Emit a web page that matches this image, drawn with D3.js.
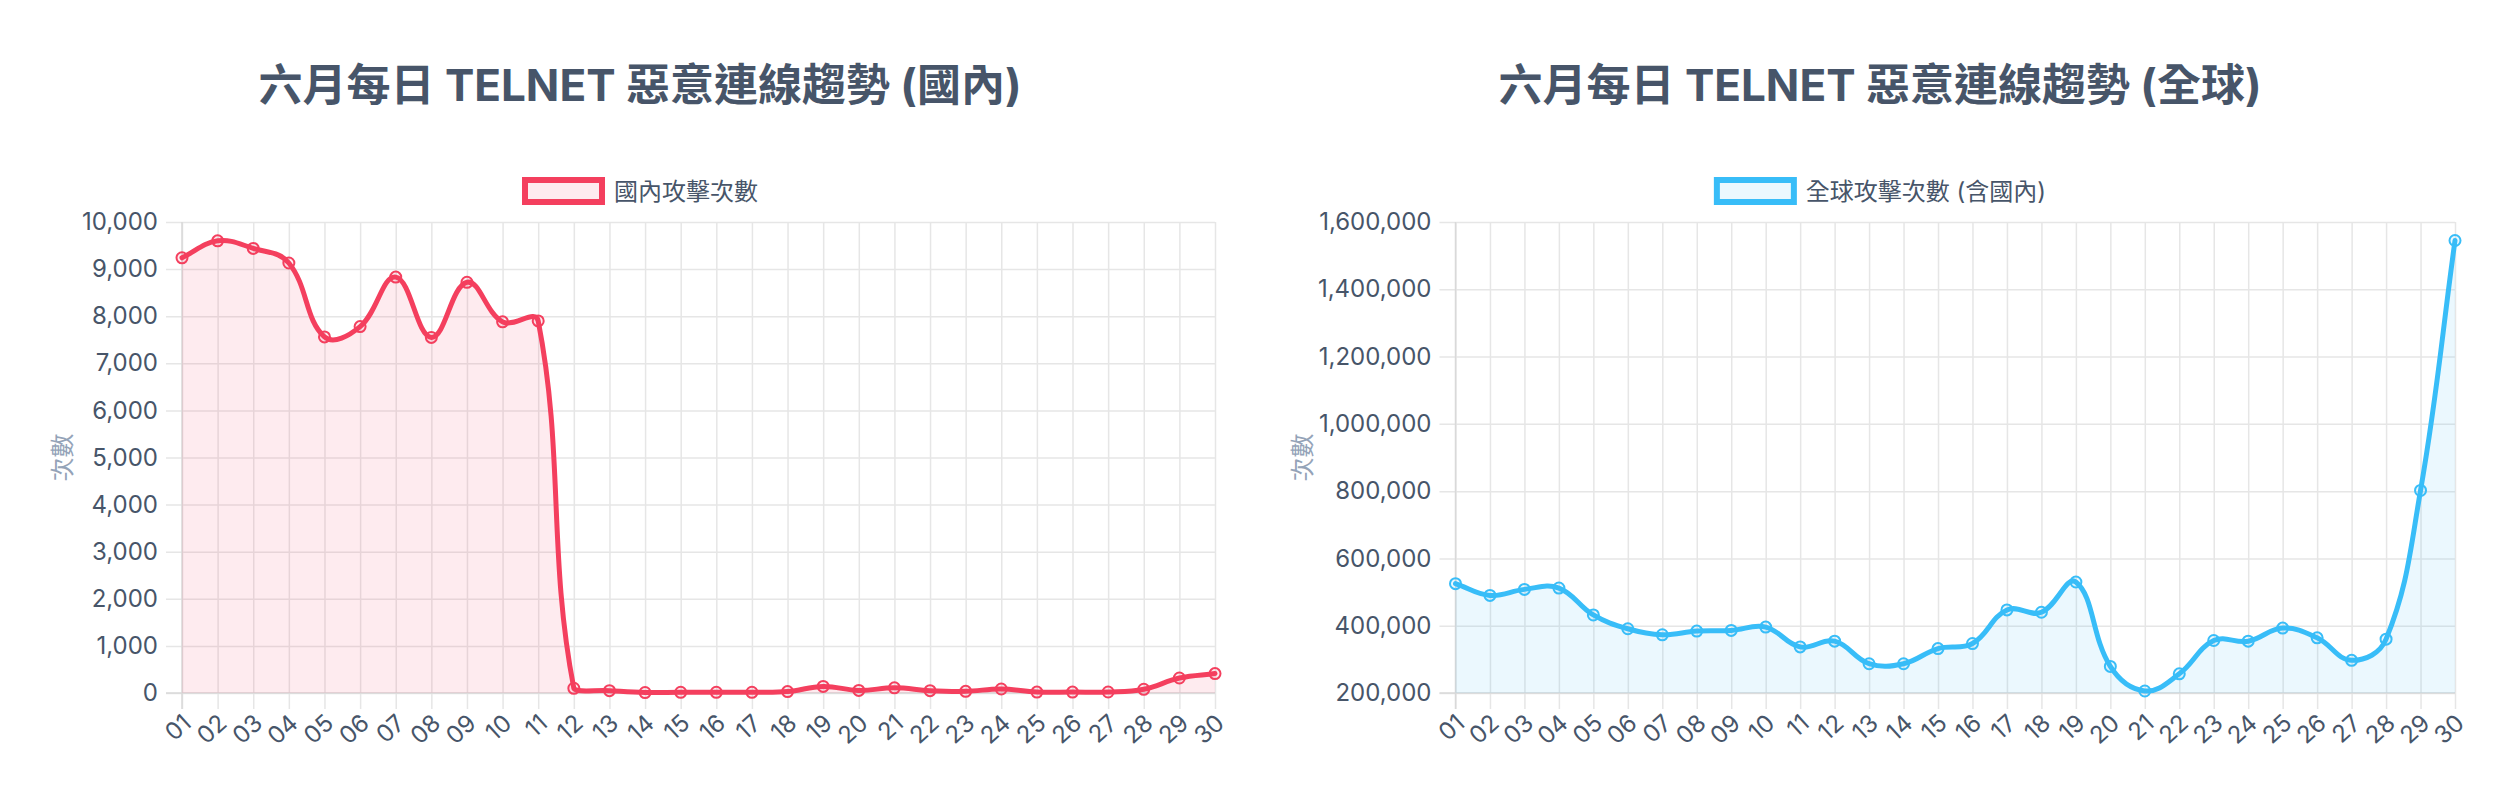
<!DOCTYPE html>
<html><head><meta charset="utf-8">
<script src="https://cdn.jsdelivr.net/npm/d3@7"></script>
<style>
body{margin:0;background:#fff;}
svg{display:block;font-family:Inter,"Noto Sans CJK TC",sans-serif;}
</style>
</head><body>
<svg id="c" width="2520" height="800"></svg>
<script>
const days = ["01","02","03","04","05","06","07","08","09","10","11","12","13","14","15","16","17","18","19","20","21","22","23","24","25","26","27","28","29","30"];
const domesticValues = [9240,9600,9440,9130,7560,7780,8830,7550,8720,7880,7900,100,50,10,15,15,15,30,140,55,110,50,35,85,20,20,21,79,318,412];
const globalValues = [525000,490000,508000,512000,432000,391000,373000,384000,386000,396000,337000,354000,287000,287000,332000,347000,447000,440000,530000,279000,206000,257000,356000,354000,393000,364000,297000,360000,802000,1545000];
const domesticTicks = [0,1000,2000,3000,4000,5000,6000,7000,8000,9000,10000];
const globalTicks = [200000,400000,600000,800000,1000000,1200000,1400000,1600000];
const chartTitles = ["六月每日 TELNET 惡意連線趨勢 (國內)","六月每日 TELNET 惡意連線趨勢 (全球)"];
const legendLabels = ["國內攻擊次數","全球攻擊次數 (含國內)"];
const yAxisTitle = "次數";

const svg = d3.select("#c");
const fmt = d3.format(",");

function chartJsCurve(area, tension){
  return function(context){
    return {
      _line: NaN,
      areaStart(){ this._line = 0; },
      areaEnd(){ this._line = NaN; },
      lineStart(){ this._p = []; },
      point(x, y){ this._p.push({x:+x, y:+y}); },
      lineEnd(){
        const p = this._p, n = p.length, c = context;
        if (n){
          if (this._line) c.lineTo(p[0].x, p[0].y); else c.moveTo(p[0].x, p[0].y);
          const clx = v => Math.max(area.left, Math.min(area.right, v));
          const cly = v => Math.max(area.top, Math.min(area.bottom, v));
          const cps = p.map((cur, i) => {
            const prev = p[i-1] || cur, next = p[i+1] || cur;
            const d01 = Math.hypot(cur.x-prev.x, cur.y-prev.y);
            const d12 = Math.hypot(next.x-cur.x, next.y-cur.y);
            let s01 = d01/(d01+d12), s12 = d12/(d01+d12);
            if (isNaN(s01)) s01 = 0; if (isNaN(s12)) s12 = 0;
            const fa = tension*s01, fb = tension*s12;
            return {px: clx(cur.x - fa*(next.x-prev.x)), py: cly(cur.y - fa*(next.y-prev.y)),
                    nx: clx(cur.x + fb*(next.x-prev.x)), ny: cly(cur.y + fb*(next.y-prev.y))};
          });
          for (let i = 0; i < n-1; i++)
            c.bezierCurveTo(cps[i].nx, cps[i].ny, cps[i+1].px, cps[i+1].py, p[i+1].x, p[i+1].y);
        }
        if (this._line || (this._line !== 0 && n === 1)) c.closePath();
        this._line = 1 - this._line;
      }
    };
  };
}

function drawChart(cfg){
  const g = svg.append("g");
  const area = {left: cfg.left, right: cfg.right, top: 222, bottom: 693};
  const x = d3.scalePoint().domain(days).range([area.left, area.right]);
  const y = d3.scaleLinear().domain([cfg.ticks[0], cfg.ticks[cfg.ticks.length-1]]).range([area.bottom, area.top]);

  // title
  g.append("text").attr("x", cfg.center).attr("y", 85)
    .attr("text-anchor","middle").attr("dominant-baseline","central")
    .attr("font-size", 44).attr("font-weight", 700).attr("fill", "#475569")
    .text(cfg.title);

  // legend
  const lg = g.append("g");
  lg.append("rect").attr("x", 3).attr("y", 180).attr("width", 77).attr("height", 22)
    .attr("fill", cfg.fill).attr("stroke", cfg.color).attr("stroke-width", 6);
  const lt = lg.append("text").attr("x", 92).attr("y", 191).attr("dominant-baseline","central")
    .attr("font-size", 24).attr("fill", "#475569").text(cfg.legend);
  const lw = 92 + lt.node().getComputedTextLength();
  lg.attr("transform", `translate(${cfg.center - lw/2},0)`);

  // grid: horizontal (with tick marks extending left)
  const yAxis = d3.axisLeft(y).tickValues(cfg.ticks).tickFormat(fmt)
    .tickSize(-(area.right - area.left) - 16).tickPadding(8);
  const ya = g.append("g").attr("transform", `translate(${area.left - 16},0)`).call(yAxis);
  ya.select(".domain").remove();
  ya.selectAll(".tick line").attr("stroke", "#e6e6e6").attr("stroke-width", 1.5);
  ya.selectAll(".tick text").attr("font-size", 24).attr("fill", "#475569")
    .attr("font-family", "Inter, 'Noto Sans CJK TC', sans-serif");

  // grid: vertical (with tick marks extending down)
  const xAxis = d3.axisBottom(x).tickSize(-(area.bottom - area.top) - 16).tickFormat("");
  const xa = g.append("g").attr("transform", `translate(0,${area.bottom + 16})`).call(xAxis);
  xa.select(".domain").remove();
  xa.selectAll(".tick line").attr("stroke", "#e6e6e6").attr("stroke-width", 1.5);

  // x labels rotated
  g.append("g").selectAll("text").data(days).join("text")
    .attr("transform", d => `translate(${x(d) + 5},${area.bottom + 26}) rotate(-42)`)
    .attr("text-anchor", "end").attr("dominant-baseline", "central")
    .attr("font-size", 24).attr("fill", "#475569").text(d => d);

  // axis borders
  g.append("line").attr("x1", area.left).attr("x2", area.left).attr("y1", area.top).attr("y2", area.bottom + 16)
    .attr("stroke", "#d9d9d9").attr("stroke-width", 1.5);
  g.append("line").attr("x1", area.left - 16).attr("x2", area.right).attr("y1", area.bottom).attr("y2", area.bottom)
    .attr("stroke", "#d9d9d9").attr("stroke-width", 1.5);

  // y title
  g.append("text").attr("transform", `translate(${cfg.ytitleX},${(area.top+area.bottom)/2}) rotate(-90)`)
    .attr("text-anchor","middle").attr("dominant-baseline","central")
    .attr("font-size", 24).attr("fill", "#94a3b8").text(yAxisTitle);

  const curve = chartJsCurve(area, 0.4);
  const data = days.map((d, i) => ({d, v: cfg.values[i]}));
  g.append("path").datum(data)
    .attr("d", d3.area().x(p => x(p.d)).y0(area.bottom).y1(p => y(p.v)).curve(curve))
    .attr("fill", cfg.fill);
  g.append("path").datum(data)
    .attr("d", d3.line().x(p => x(p.d)).y(p => y(p.v)).curve(curve))
    .attr("fill", "none").attr("stroke", cfg.color).attr("stroke-width", 5)
    .attr("stroke-linejoin","round").attr("stroke-linecap","round");
  g.append("g").selectAll("circle").data(data).join("circle")
    .attr("cx", p => x(p.d)).attr("cy", p => y(p.v)).attr("r", 5.5)
    .attr("fill", cfg.fill).attr("stroke", cfg.color).attr("stroke-width", 2);
}

drawChart({left:182, right:1215, center:640, ytitleX:62, title:chartTitles[0], legend:legendLabels[0],
  values:domesticValues, ticks:domesticTicks, color:"#f43f5e", fill:"rgba(244,63,94,0.1)"});
drawChart({left:1455.5, right:2455, center:1880, ytitleX:1302, title:chartTitles[1], legend:legendLabels[1],
  values:globalValues, ticks:globalTicks, color:"#38bdf8", fill:"rgba(56,189,248,0.1)"});
</script>
</body></html>
